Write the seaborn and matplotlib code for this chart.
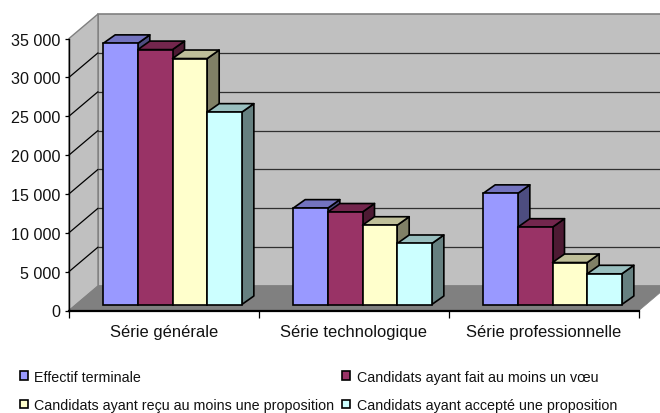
import matplotlib
matplotlib.use('Agg')
import matplotlib.pyplot as plt
from matplotlib.patches import Polygon
from matplotlib.transforms import IdentityTransform
import pandas as pd
import seaborn as sns

# values
series = ['Effectif terminale',
          'Candidats ayant fait au moins un vœu',
          'Candidats ayant reçu au moins une proposition',
          'Candidats ayant accepté une proposition']
categories = ['Série générale', 'Série technologique', 'Série professionnelle']
effectif = [33600, 12400, 14300]
voeu = [32800, 11900, 9950]
proposition = [31650, 10200, 5400]
accepte = [24750, 7850, 3950]
yticks = [0, 5000, 10000, 15000, 20000, 25000, 30000, 35000]
colors = ['#9999FF', '#993366', '#FFFFCC', '#CCFFFF']

data = pd.DataFrame({'categorie': categories * 4,
                     'serie': [s for s in series for _ in categories],
                     'valeur': effectif + voeu + proposition + accepte})

sns.set_style('white')
plt.rcParams['font.family'] = ['Liberation Sans', 'DejaVu Sans']

W, H = 660, 414
fig = plt.figure(figsize=(W / 100, H / 100), dpi=100)
ax = fig.add_axes([69 / W, (H - 311.5) / H, 570 / W, 272 / H])
ax.patch.set_visible(False)

sns.barplot(data=data, x='categorie', y='valeur', hue='serie', hue_order=series,
            palette=colors, width=0.73, gap=0, saturation=1, errorbar=None, ax=ax,
            edgecolor='black', linewidth=1.2)
ax.set_xlim(-0.5, 2.5)
ax.set_ylim(0, 35000)
ax.set_xlabel('')
ax.set_ylabel('')


# 3D look : everything below is in screen pixels, y going up
def add_poly(points, **kw):
    ax.add_patch(Polygon(points, closed=True, transform=IdentityTransform(),
                         clip_on=False, **kw))


def add_line(p1, p2, **kw):
    ax.plot([p1[0], p2[0]], [p1[1], p2[1]], transform=IdentityTransform(),
            clip_on=False, scalex=False, scaley=False, **kw)


WALL_DX, WALL_DY = 29, 24.5
x0, y0 = ax.transData.transform((-0.5, 0))
x1, y1 = ax.transData.transform((2.5, 35000))

add_poly([(x0 + WALL_DX, y0 + WALL_DY), (x1 + WALL_DX, y0 + WALL_DY),
          (x1 + WALL_DX, y1 + WALL_DY), (x0 + WALL_DX, y1 + WALL_DY)],
         facecolor='#C0C0C0', edgecolor='#808080', linewidth=1.2, zorder=0.1)
add_poly([(x0, y0), (x0 + WALL_DX, y0 + WALL_DY),
          (x0 + WALL_DX, y1 + WALL_DY), (x0, y1)],
         facecolor='#C0C0C0', edgecolor='#808080', linewidth=1.0, zorder=0.1)
add_poly([(x0, y0), (x1, y0), (x1 + WALL_DX, y0 + WALL_DY), (x0 + WALL_DX, y0 + WALL_DY)],
         facecolor='#808080', edgecolor='#808080', linewidth=0.5, zorder=0.2)

for t in yticks[1:-1]:
    _, yp = ax.transData.transform((0, t))
    add_line((x0, yp), (x0 + WALL_DX, yp + WALL_DY), color='black', lw=0.9, zorder=0.3)
    add_line((x0 + WALL_DX, yp + WALL_DY), (x1 + WALL_DX, yp + WALL_DY),
             color='#303030', lw=0.9, zorder=0.3)

# bars stand a little behind the front edge of the floor
BAR_DX, BAR_DY = 8.5, 6
DEPTH_DX, DEPTH_DY = 12, 8.5


def shade(color, factor):
    r, g, b = matplotlib.colors.to_rgb(color)
    return (r * factor, g * factor, b * factor)


bars = [b for cont in ax.containers for b in cont]
bars.sort(key=lambda b: b.get_x())
shift = matplotlib.transforms.Affine2D().translate(BAR_DX, BAR_DY)
for i, bar in enumerate(bars):
    z = 3 + i * 0.1
    (xa, ya), (xb, yb) = ax.transData.transform(
        [(bar.get_x(), 0), (bar.get_x() + bar.get_width(), bar.get_height())])
    xa, xb, ya, yb = xa + BAR_DX, xb + BAR_DX, ya + BAR_DY, yb + BAR_DY
    face = bar.get_facecolor()
    add_poly([(xb, ya), (xb + DEPTH_DX, ya + DEPTH_DY), (xb + DEPTH_DX, yb + DEPTH_DY), (xb, yb)],
             facecolor=shade(face, 0.5), edgecolor='black', linewidth=1.2, joinstyle='round', zorder=z)
    add_poly([(xa, yb), (xb, yb), (xb + DEPTH_DX, yb + DEPTH_DY), (xa + DEPTH_DX, yb + DEPTH_DY)],
             facecolor=shade(face, 0.75), edgecolor='black', linewidth=1.2, joinstyle='round', zorder=z)
    bar.set_transform(ax.transData + shift)
    bar.set_zorder(z + 0.05)
    bar.set_clip_on(False)

# axes
for side in ['top', 'right']:
    ax.spines[side].set_visible(False)
ax.spines['left'].set_color('black')
ax.spines['left'].set_linewidth(1.0)
ax.spines['bottom'].set_color('black')
ax.spines['bottom'].set_linewidth(1.6)

ax.set_yticks(yticks, [f'{t:,}'.replace(',', ' ') for t in yticks])
ax.set_xticks([-0.5, 0.5, 1.5, 2.5], ['', '', '', ''])
ax.set_xticks([0, 1, 2], categories, minor=True)
ax.tick_params(axis='y', which='major', length=3, width=0.9, color='black', left=True,
               labelsize=11.6, pad=3, labelcolor='#111111')
ax.tick_params(axis='x', which='major', length=5, width=0.9, color='black', bottom=True)
ax.tick_params(axis='x', which='minor', length=0, labelsize=11.85, pad=9.5, labelcolor='#111111')

handles, labels = ax.get_legend_handles_labels()
order = [0, 2, 1, 3]
leg = ax.legend([handles[i] for i in order], [labels[i] for i in order], ncols=2,
                loc='lower left', bbox_to_anchor=(20 / W, 1 / H), bbox_transform=fig.transFigure,
                frameon=False, fontsize=10.3, handlelength=0.56, handleheight=0.56,
                handletextpad=0.45, columnspacing=0.55, labelspacing=1.0,
                borderpad=0, borderaxespad=0)
for t in leg.get_texts():
    t.set_color('#111111')

fig.savefig('out.png', dpi=100, facecolor='white')
